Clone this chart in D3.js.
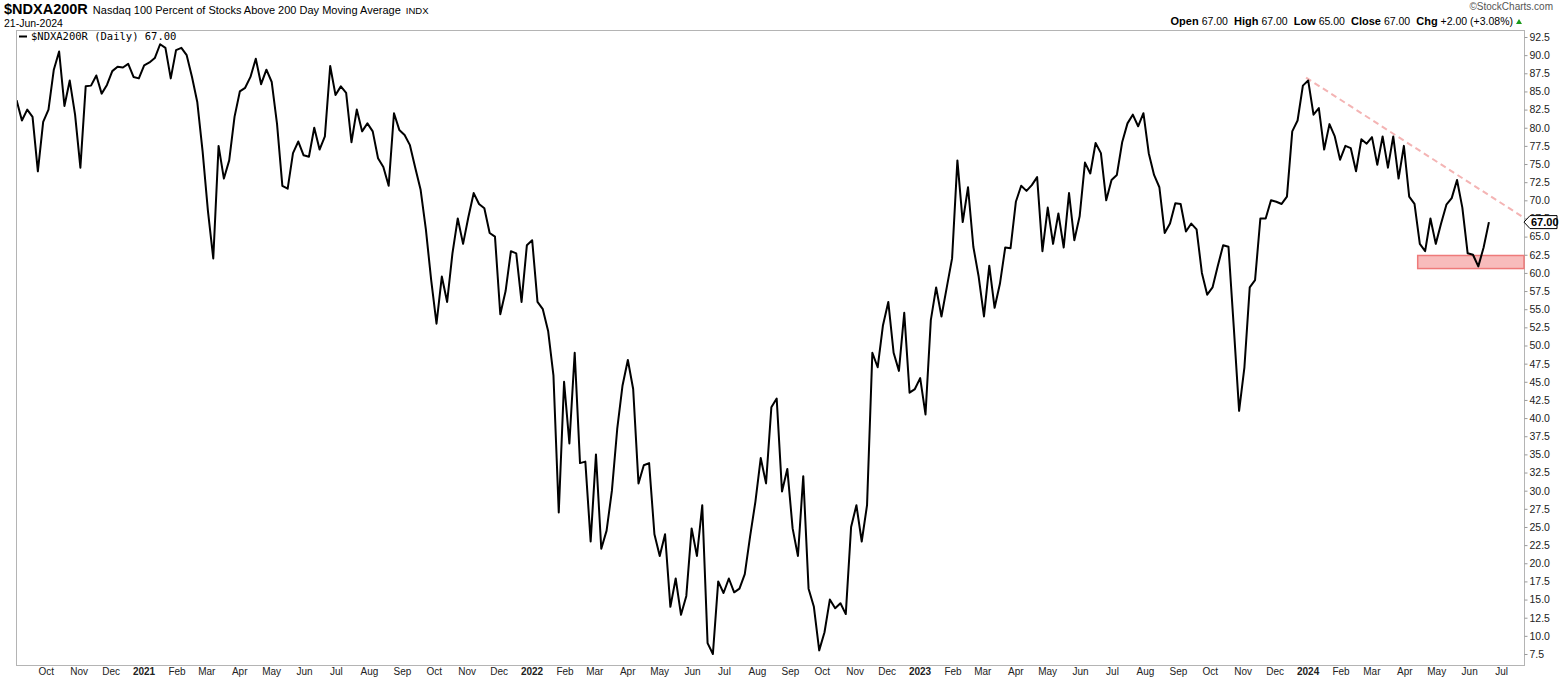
<!DOCTYPE html>
<html>
<head>
<meta charset="utf-8">
<script src="https://cdn.jsdelivr.net/npm/d3@7"></script>
<style>
  html, body { margin: 0; padding: 0; background: #fff; }
  svg { display: block; }
  text { font-family: "Liberation Sans", Arial, sans-serif; }
</style>
</head>
<body>
<svg id="chart" width="1565" height="681"></svg>
<script>
// ---------------- DATA ----------------
const symbol = "$NDXA200R";
const titleText = "Nasdaq 100 Percent of Stocks Above 200 Day Moving Average";
const exchange = "INDX";
const asOf = "21-Jun-2024";
const legendText = "$NDXA200R (Daily) 67.00";
const quoteLabels = ["Open", "High", "Low", "Close", "Chg"];
const quoteValues = ["67.00", "67.00", "65.00", "67.00", "+2.00 (+3.08%)"];
const lastValue = 67.00;

// series sampled every 5 calendar days starting 2020-09-05 (last point = 21-Jun-2024)
const seriesStart = "2020-09-05";
const stepDays = 5;
const values = [
  83.8, 81, 82.5, 81.5, 74, 80.8, 82.5, 88, 90.5, 83,
  86.5, 81.8, 74.5, 85.7, 85.8, 87.2, 84.7, 85.9, 87.8, 88.4,
  88.3, 88.8, 87, 86.8, 88.6, 89, 89.6, 91.5, 91, 86.8,
  90.7, 91, 90, 87, 83.5, 76.7, 68.5, 62, 77.5, 73,
  75.5, 81.5, 85, 85.5, 87, 89.5, 86, 88, 86.3, 80.5,
  72, 71.6, 76.5, 78.1, 76.2, 76, 80, 77, 78.8, 88.5,
  84.5, 85.7, 84.8, 78, 82.5, 79.5, 80.6, 79.5, 75.8, 74.6,
  72, 82, 79.7, 79, 77.6, 74.5, 71.5, 66, 59, 53,
  59.5, 56, 62.7, 67.5, 64, 67.7, 71, 69.5, 68.9, 65.5,
  65, 54.3, 57.5, 63, 62.7, 56, 63.8, 64.5, 56, 55,
  52, 45.9, 27, 45, 36.5, 49, 33.8, 34, 23, 35,
  22, 24.5, 30, 38.5, 44.5, 48, 44, 31, 33.5, 33.8,
  24, 21, 24, 14, 17.9, 12.9, 15.5, 24.8, 21, 28,
  9, 7.5, 17.5, 15.9, 17.9, 16, 16.5, 18.5, 23.7, 28.5,
  34.5, 31, 41.5, 42.7, 29.9, 33, 24.8, 21, 32, 16.5,
  14, 8, 10.5, 15, 13.8, 14.5, 13, 25, 28, 23,
  28, 49, 47, 52.8, 56, 49, 46.5, 54.5, 43.5, 44,
  45.5, 40.5, 53.5, 58, 54, 58, 62, 75.5, 67, 71.8,
  63.6, 59.5, 54, 61, 55.2, 58.5, 63.5, 63.4, 69.8, 72,
  71.3, 72.1, 73.2, 63, 69, 64, 68.2, 63.5, 71, 64.5,
  67.8, 75.2, 73.7, 77.9, 76.5, 70, 72.8, 73.5, 78, 80.6,
  81.8, 80.2, 82, 76.5, 73.5, 71.8, 65.5, 66.8, 69.6, 69.5,
  65.7, 66.8, 66, 60, 57, 58, 61, 63.8, 63.6, 52.5,
  41, 47, 58, 59, 67.5, 67.5, 70, 69.8, 69.5, 70.5,
  79.5, 81, 85.8, 86.5, 81.8, 82.7, 77, 80.5, 78.8, 75.6,
  77.5, 77.2, 74, 78.4, 77.8, 78.7, 74.9, 78.8, 74.5, 78.8,
  73, 77.5, 70.5, 69.5, 64, 63, 67.5, 64, 66.8, 69.4,
  70.3, 72.8, 69, 62.7, 62.5, 60.9, 63.5, 67
];

// annotations
const trendLine = [["2024-01-01", 86.9], ["2024-07-24", 67.6]];
const supportZone = { from: "2024-04-15", to: "2024-07-24", low: 60.6, high: 62.4 };

// axes
const xDomain = ["2020-09-05", "2024-07-24"];
const yDomain = [7.5, 92.5];
const yTicks = d3.range(7.5, 92.5 + 0.01, 2.5);
const monthNames = ["Jan","Feb","Mar","Apr","May","Jun","Jul","Aug","Sep","Oct","Nov","Dec"];

// ---------------- DRAW ----------------
const parse = d3.utcParse("%Y-%m-%d");
const start = parse(seriesStart);
const data = values.map((v, i) => ({ date: d3.utcDay.offset(start, i * stepDays), value: v }));

const svg = d3.select("#chart");
const L = 16, R = 1524, T = 30, B = 665;

const x = d3.scaleUtc().domain(xDomain.map(parse)).range([16.6, R]);
const y = d3.scaleLinear().domain(yDomain).range([654, 37]);

// header
const h = svg.append("text").attr("x", 4).attr("y", 14);
h.append("tspan").attr("font-weight", "bold").attr("font-size", "14.5px").text(symbol);
h.append("tspan").attr("font-size", "11px").attr("dx", 5).text(titleText);
h.append("tspan").attr("font-size", "9.5px").attr("dx", 5).text(exchange);

svg.append("text").attr("x", 4).attr("y", 27).attr("font-size", "10.5px").text(asOf);

svg.append("text").attr("x", 1553).attr("y", 10).attr("text-anchor", "end")
  .attr("font-size", "10px").attr("fill", "#555").text("\u00A9StockCharts.com");

const q = svg.append("text").attr("x", 1513).attr("y", 25).attr("text-anchor", "end");
quoteLabels.forEach((lab, i) => {
  q.append("tspan").attr("font-weight", "bold").attr("font-size", "11px").attr("dx", i ? 6 : 0).text(lab);
  q.append("tspan").attr("font-size", "10.5px").attr("dx", 3).text(quoteValues[i]);
});
svg.append("path").attr("d", "M1516,24 L1522,24 L1519,19 Z").attr("fill", "#1a9a1a");

// plot border
svg.append("rect").attr("x", L + 0.5).attr("y", T + 0.5).attr("width", R - L).attr("height", B - T)
  .attr("fill", "none").attr("stroke", "#b4b4b4").attr("stroke-width", 1);

// clip
svg.append("clipPath").attr("id", "clip").append("rect")
  .attr("x", L + 1).attr("y", T + 1).attr("width", R - L - 1).attr("height", B - T - 1);

// support zone
svg.append("rect")
  .attr("x", x(parse(supportZone.from)))
  .attr("y", y(supportZone.high))
  .attr("width", x(parse(supportZone.to)) - x(parse(supportZone.from)))
  .attr("height", y(supportZone.low) - y(supportZone.high))
  .attr("fill", "#f8bcbc").attr("stroke", "#ee7a7a").attr("stroke-width", 1.5);

// trend line
svg.append("line")
  .attr("x1", x(parse(trendLine[0][0]))).attr("y1", y(trendLine[0][1]))
  .attr("x2", x(parse(trendLine[1][0]))).attr("y2", y(trendLine[1][1]))
  .attr("stroke", "#f4b4b4").attr("stroke-width", 2).attr("stroke-dasharray", "6,4");

// series line
const line = d3.line().x(d => x(d.date)).y(d => y(d.value));
svg.append("path").datum(data).attr("clip-path", "url(#clip)")
  .attr("d", line).attr("fill", "none").attr("stroke", "#000")
  .attr("stroke-width", 2).attr("stroke-linejoin", "round");

// legend
svg.append("line").attr("x1", 19).attr("x2", 27).attr("y1", 36.5).attr("y2", 36.5)
  .attr("stroke", "#000").attr("stroke-width", 2);
svg.append("text").attr("x", 31).attr("y", 40)
  .attr("font-size", "10.5px")
  .style("font-family", "'DejaVu Sans Mono', monospace").text(legendText);

// y axis (right)
const yAxis = d3.axisRight(y).tickValues(yTicks).tickFormat(d3.format(".1f")).tickSize(3).tickPadding(2);
const gy = svg.append("g").attr("transform", `translate(${R + 0.5},0)`).call(yAxis);
gy.select(".domain").remove();
gy.selectAll(".tick line").attr("stroke", "#999");
gy.selectAll(".tick text").attr("font-size", "10.5px").attr("fill", "#222")
  .attr("font-family", "'Liberation Sans', Arial, sans-serif");

// x axis (bottom)
const months = d3.utcMonth.range(parse("2020-10-01"), parse("2024-07-02"));
const xAxis = d3.axisBottom(x).tickValues(months).tickSize(0).tickPadding(3)
  .tickFormat(d => d.getUTCMonth() === 0 ? String(d.getUTCFullYear()) : monthNames[d.getUTCMonth()]);
const gx = svg.append("g").attr("transform", `translate(1.5,${B})`).call(xAxis);
gx.select(".domain").remove();
gx.selectAll(".tick text").attr("font-size", "10px").attr("fill", "#222")
  .attr("font-family", "'Liberation Sans Narrow', 'Arial Narrow', 'Liberation Sans', sans-serif")
  .attr("font-weight", d => d.getUTCMonth() === 0 ? "bold" : "normal");

// last value tag
const ty = y(lastValue);
svg.append("path")
  .attr("d", `M${R},${ty} L${R + 6},${ty - 6.5} L${R + 33},${ty - 6.5} L${R + 33},${ty + 6.5} L${R + 6},${ty + 6.5} Z`)
  .attr("fill", "#fff").attr("stroke", "#000").attr("stroke-width", 1);
svg.append("text").attr("x", R + 7).attr("y", ty + 4).attr("font-size", "11px")
  .attr("font-weight", "bold").text(lastValue.toFixed(2));
</script>
</body>
</html>
